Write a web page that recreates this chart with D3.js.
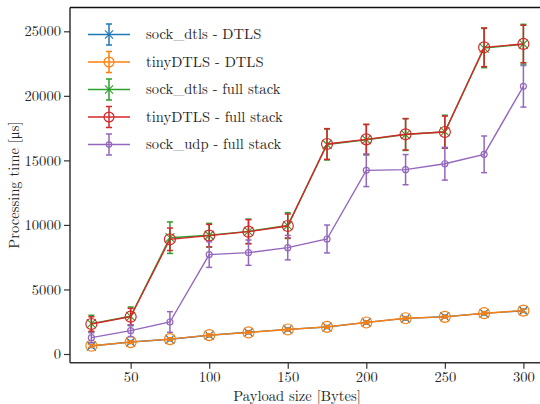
<!DOCTYPE html>
<html>
<head>
<meta charset="utf-8">
<script src="https://cdn.jsdelivr.net/npm/d3@7"></script>
<style>
  body { margin: 0; background: white; }
</style>
</head>
<body>
<div id="chart"></div>
<script>
// payload sizes in bytes
const payload = [25, 50, 75, 100, 125, 150, 175, 200, 225, 250, 275, 300];

const sockDtlsDtls = [620, 930, 1140, 1450, 1680, 1910, 2090, 2450, 2760, 2890, 3150, 3350];
const sockDtlsDtlsErr = [120, 110, 110, 120, 110, 120, 110, 130, 130, 120, 130, 130];

const tinyDtlsDtls = [640, 920, 1150, 1460, 1670, 1900, 2100, 2440, 2770, 2880, 3160, 3360];
const tinyDtlsDtlsErr = [110, 100, 110, 110, 100, 110, 110, 120, 120, 110, 120, 120];

const sockDtlsFull = [2350, 2920, 9010, 9200, 9500, 9950, 16230, 16600, 17000, 17220, 23700, 24000];
const sockDtlsFullErr = [650, 720, 1220, 920, 950, 1000, 1200, 1180, 1230, 1280, 1520, 1540];

const tinyDtlsFull = [2325, 2890, 8886, 9170, 9477, 9916, 16270, 16630, 17020, 17200, 23760, 24020];
const tinyDtlsFullErr = [560, 650, 870, 870, 930, 930, 1190, 1160, 1215, 1230, 1500, 1450];

const sockUdpFull = [1265, 1810, 2480, 7700, 7850, 8240, 8910, 14230, 14280, 14740, 15470, 20740];
const sockUdpFullErr = [380, 460, 800, 990, 980, 950, 1080, 1260, 1170, 1270, 1420, 1610];

const yTicks = [0, 5000, 10000, 15000, 20000, 25000];
const xTicks = [50, 100, 150, 200, 250, 300];

const series = [
  { name: "sock_dtls - DTLS", vals: sockDtlsDtls, err: sockDtlsDtlsErr, color: "#1f77b4", marker: "x" },
  { name: "tinyDTLS - DTLS", vals: tinyDtlsDtls, err: tinyDtlsDtlsErr, color: "#ff7f0e", marker: "o" },
  { name: "sock_dtls - full stack", vals: sockDtlsFull, err: sockDtlsFullErr, color: "#2ca02c", marker: "x" },
  { name: "tinyDTLS - full stack", vals: tinyDtlsFull, err: tinyDtlsFullErr, color: "#d62728", marker: "o" },
  { name: "sock_udp - full stack", vals: sockUdpFull, err: sockUdpFullErr, color: "#9467bd", marker: "s" }
];

const W = 540, H = 404;
const PLOT = { left: 70, right: 545, top: 7.5, bottom: 362.7 };
const FONT = "'Latin Modern Roman', 'Liberation Serif', serif";
const FS = 14.6;

const svg = d3.select("#chart").append("svg")
  .attr("width", W).attr("height", H)
  .attr("font-family", FONT);

const x = d3.scaleLinear().domain([11.39, 313.75]).range([PLOT.left, PLOT.right]);
const y = d3.scaleLinear().domain([-674, 26844]).range([PLOT.bottom, PLOT.top]);

// axes
const yAxis = svg.append("g")
  .attr("transform", `translate(${PLOT.left},0)`)
  .call(d3.axisLeft(y).tickValues(yTicks).tickFormat(d3.format("d")).tickSize(6).tickPadding(3));
const xAxis = svg.append("g")
  .attr("transform", `translate(0,${PLOT.bottom})`)
  .call(d3.axisBottom(x).tickValues(xTicks).tickFormat(d3.format("d")).tickSize(6).tickPadding(3));

[yAxis, xAxis].forEach(a => {
  a.attr("font-family", FONT).attr("font-size", FS);
  a.select(".domain").remove();
  a.selectAll(".tick line").attr("stroke", "#333").attr("stroke-width", 1.2);
  a.selectAll(".tick text").attr("fill", "#262626");
});

// spines
svg.append("line").attr("x1", PLOT.left).attr("x2", PLOT.left)
  .attr("y1", PLOT.top).attr("y2", PLOT.bottom)
  .attr("stroke", "#333").attr("stroke-width", 1.5);
svg.append("line").attr("x1", PLOT.left).attr("x2", W)
  .attr("y1", PLOT.bottom).attr("y2", PLOT.bottom)
  .attr("stroke", "#333").attr("stroke-width", 1.5);
svg.append("line").attr("x1", PLOT.left).attr("x2", W)
  .attr("y1", PLOT.top).attr("y2", PLOT.top)
  .attr("stroke", "#111").attr("stroke-width", 1.3);

// axis labels
svg.append("text")
  .attr("x", 297).attr("y", 400.5)
  .attr("text-anchor", "middle")
  .attr("fill", "#262626")
  .attr("font-size", FS)
  .text("Payload size [Bytes]");
svg.append("text")
  .attr("transform", `translate(18.5,${(PLOT.top + PLOT.bottom) / 2}) rotate(-90)`)
  .attr("text-anchor", "middle")
  .attr("fill", "#262626")
  .attr("font-size", FS)
  .text("Processing time [μs]");

function drawMarker(g, type, cx, cy, color, scale) {
  if (type === "x") {
    const s = 4.5 * scale;
    g.append("path")
      .attr("d", `M${cx - s},${cy - s}L${cx + s},${cy + s}M${cx - s},${cy + s}L${cx + s},${cy - s}`)
      .attr("stroke", color).attr("stroke-width", 1.1).attr("fill", "none");
  } else if (type === "o") {
    g.append("circle").attr("cx", cx).attr("cy", cy).attr("r", 5.5 * scale)
      .attr("stroke", color).attr("stroke-width", 1.2).attr("fill", "none");
  } else {
    g.append("circle").attr("cx", cx).attr("cy", cy).attr("r", 3 * scale)
      .attr("stroke", color).attr("stroke-width", 1.2).attr("fill", "none");
  }
}

function errBar(g, cx, y1, y2, color) {
  g.append("line").attr("x1", cx).attr("x2", cx).attr("y1", y1).attr("y2", y2)
    .attr("stroke", color).attr("stroke-width", 1.5);
  [y1, y2].forEach(yy => {
    g.append("line").attr("x1", cx - 3).attr("x2", cx + 3).attr("y1", yy).attr("y2", yy)
      .attr("stroke", color).attr("stroke-width", 1.5);
  });
}

const line = d3.line().x((d, i) => x(payload[i])).y(d => y(d));

series.forEach(s => {
  const g = svg.append("g");
  g.append("path").datum(s.vals)
    .attr("d", line)
    .attr("fill", "none")
    .attr("stroke", s.color)
    .attr("stroke-width", 1.4);
  s.vals.forEach((v, i) => {
    errBar(g, x(payload[i]), y(v + s.err[i]), y(v - s.err[i]), s.color);
  });
  s.vals.forEach((v, i) => {
    drawMarker(g, s.marker, x(payload[i]), y(v), s.color, 1);
  });
});

// legend
const legend = svg.append("g");
series.forEach((s, i) => {
  const cy = 34.5 + i * 27.5;
  const g = legend.append("g");
  g.append("line").attr("x1", 88).attr("x2", 130).attr("y1", cy).attr("y2", cy)
    .attr("stroke", s.color).attr("stroke-width", 1.4);
  errBar(g, 109, cy - 10.5, cy + 10.5, s.color);
  drawMarker(g, s.marker, 109, cy, s.color, 0.9);
  g.append("text")
    .attr("x", 146).attr("y", cy).attr("dy", "0.33em")
    .attr("fill", "#262626")
    .attr("font-size", FS)
    .text(s.name);
});
</script>
</body>
</html>
